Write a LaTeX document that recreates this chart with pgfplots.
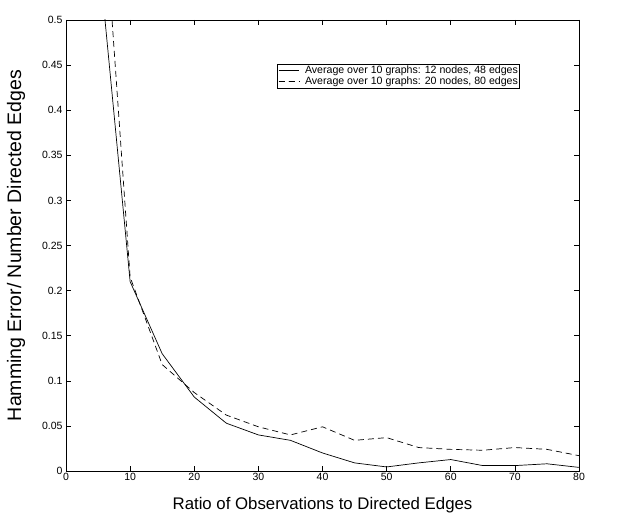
\documentclass[border=0pt]{standalone}
\usepackage{pgfplots}
\pgfplotsset{compat=1.18}
\usepackage{fontspec}
\setmainfont{Liberation Sans}
\begin{document}
\begin{tikzpicture}
\begin{axis}[
  name=ax,
  scale only axis,
  width=513bp, height=451bp,
  xmin=0, xmax=80, ymin=0, ymax=0.5,
  xtick={0,10,...,80},
  ytick={0,0.05,...,0.5},
  yticklabels={0,0.05,0.1,0.15,0.2,0.25,0.3,0.35,0.4,0.45,0.5},
  scaled y ticks=false,
  tick align=inside,
  major tick length=5bp,
  tick style={black, line width=0.6pt},
  axis line style={line width=0.8pt},
  /pgf/number format/assume math mode=true,
  tick label style={font=\fontsize{10.5bp}{12bp}\selectfont},
  xticklabel style={yshift=1bp},
  xlabel={Ratio of Observations to Directed Edges},
  ylabel={Hamming Error/ Number Directed Edges},
  xlabel style={font=\fontsize{16.8bp}{20bp}\selectfont, yshift=-10bp},
  ylabel style={font=\fontsize{19.5bp}{24bp}\selectfont, yshift=10bp},
  legend style={at={(0.4113,0.9024)}, anchor=north west, draw=black, line width=0.6pt,
    font=\fontsize{10.6bp}{11bp}\selectfont, inner sep=1bp, row sep=0bp, column sep=5bp,
    nodes={inner sep=0.6bp, text height=7.6bp, text depth=2.2bp},
    cells={anchor=west}},
  legend cell align=left,
  legend image post style={xscale=1.2},
  clip=true,
]
\addplot[black, line width=0.7pt] coordinates {
(5,0.58) (10,0.21) (15,0.13) (20,0.082) (25,0.053) (30,0.040) (35,0.034) (40,0.020)
(45,0.009) (50,0.0045) (55,0.009) (60,0.0127) (65,0.006) (70,0.006) (75,0.008) (80,0.004)};
\addlegendentry{Average over 10 graphs: 12 nodes, 48 edges}
\addplot[black, line width=0.7pt, dash pattern=on 6bp off 4bp] coordinates {
(5,0.72) (10,0.215) (15,0.118) (20,0.087) (25,0.062) (30,0.049) (35,0.040) (40,0.049)
(45,0.034) (50,0.037) (55,0.026) (60,0.024) (65,0.023) (70,0.026) (75,0.024) (80,0.017)};
\addlegendentry{Average over 10 graphs: 20 nodes, 80 edges}
\end{axis}
\path[use as bounding box] ([shift={(-66bp,-43bp)}]ax.south west) rectangle ([shift={(65bp,20bp)}]ax.north east);
\end{tikzpicture}
\end{document}
